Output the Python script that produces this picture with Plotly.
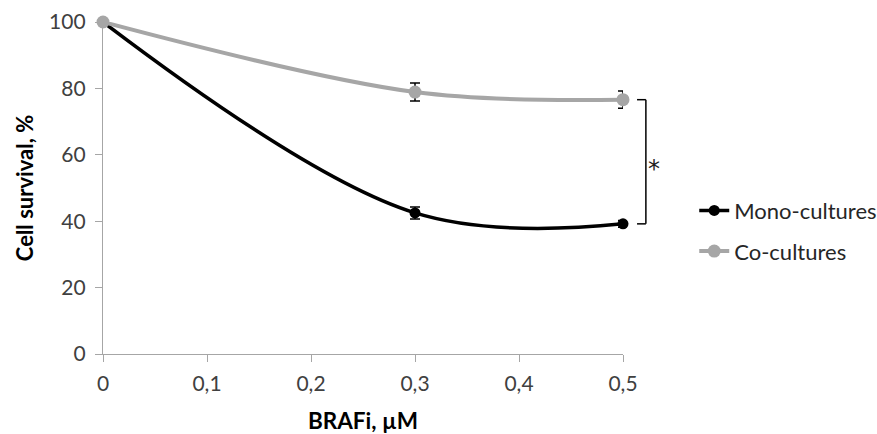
import plotly.graph_objects as go

# BRAFi dose (µM) and cell survival (%)
dose = [0, 0.3, 0.5]
mono_survival = [100, 42.5, 39.2]
mono_err = [0, 1.8, 1.0]
co_survival = [100, 78.9, 76.6]
co_err = [0, 2.7, 2.6]

x_ticks = [0, 0.1, 0.2, 0.3, 0.4, 0.5]
x_tick_text = ["0", "0,1", "0,2", "0,3", "0,4", "0,5"]
y_ticks = [0, 20, 40, 60, 80, 100]

FONT = "Lato"
BLACK = "#000000"
GREY = "#A6A6A6"
AXIS = "#A6A6A6"

fig = go.Figure()

fig.add_trace(go.Scatter(
    x=dose, y=mono_survival, name="Mono-cultures", legendgroup="mono",
    mode="lines+markers",
    line=dict(color=BLACK, width=3.5, shape="spline", smoothing=1.05),
    marker=dict(color=BLACK, size=11),
    error_y=dict(type="data", array=mono_err, color=BLACK, thickness=1.5, width=5),
    cliponaxis=False,
))
fig.add_trace(go.Scatter(
    x=dose, y=co_survival, name="Co-cultures", legendgroup="co",
    mode="lines+markers",
    line=dict(color=GREY, width=4, shape="spline", smoothing=1.0),
    marker=dict(color=GREY, size=13),
    error_y=dict(type="data", array=co_err, color=BLACK, thickness=1.5, width=5),
    cliponaxis=False,
))

# Significance bracket between the two series at the highest dose
y_top = co_survival[-1] / 100
y_bot = mono_survival[-1] / 100
bx0, bx1 = 1.027, 1.044
for y0 in (y_top, y_bot):
    fig.add_shape(type="line", xref="paper", yref="paper", x0=bx0, x1=bx1, y0=y0, y1=y0,
                  line=dict(color=BLACK, width=1.5))
fig.add_shape(type="line", xref="paper", yref="paper", x0=bx1, x1=bx1, y0=y_bot, y1=y_top,
              line=dict(color=BLACK, width=1.5))
fig.add_annotation(text="*", xref="paper", yref="paper", x=1.06, y=(y_top + y_bot) / 2,
                   yshift=-7, showarrow=False,
                   font=dict(family="DejaVu Sans", size=24, color="#202020"),
                   xanchor="center", yanchor="middle")

fig.update_layout(
    width=877, height=434,
    margin=dict(l=103, r=254, t=22, b=80, autoexpand=False),
    paper_bgcolor="white", plot_bgcolor="white",
    font=dict(family=FONT, color="#404040", size=21),
    showlegend=True,
    legend=dict(x=1.137, y=0.37, xanchor="left", yanchor="middle",
                font=dict(family=FONT, size=22, color="#262626"),
                bgcolor="rgba(0,0,0,0)", tracegroupgap=9),
    xaxis=dict(range=[0, 0.5], tickvals=x_ticks, ticktext=x_tick_text,
               showgrid=False, zeroline=False, showline=True, linecolor=AXIS, linewidth=1.3,
               ticks="outside", ticklen=7, tickcolor=AXIS, tickwidth=1.3,
               ticklabelstandoff=4, automargin=False,
               tickfont=dict(family=FONT, size=21, color="#404040"),
               title=dict(text="<b>BRAFi, µM</b>", font=dict(family=FONT, size=22.5, color=BLACK),
                          standoff=22)),
    yaxis=dict(range=[0, 100], tickvals=y_ticks,
               showgrid=False, zeroline=False, showline=True, linecolor=AXIS, linewidth=1.3,
               ticks="outside", ticklen=7, tickcolor=AXIS, tickwidth=1.3,
               ticklabelstandoff=5, automargin=False,
               tickfont=dict(family=FONT, size=21, color="#404040"),
               title=dict(text="<b>Cell survival, %</b>", font=dict(family=FONT, size=22, color=BLACK),
                          standoff=9)),
)

fig.write_html("out.html")
